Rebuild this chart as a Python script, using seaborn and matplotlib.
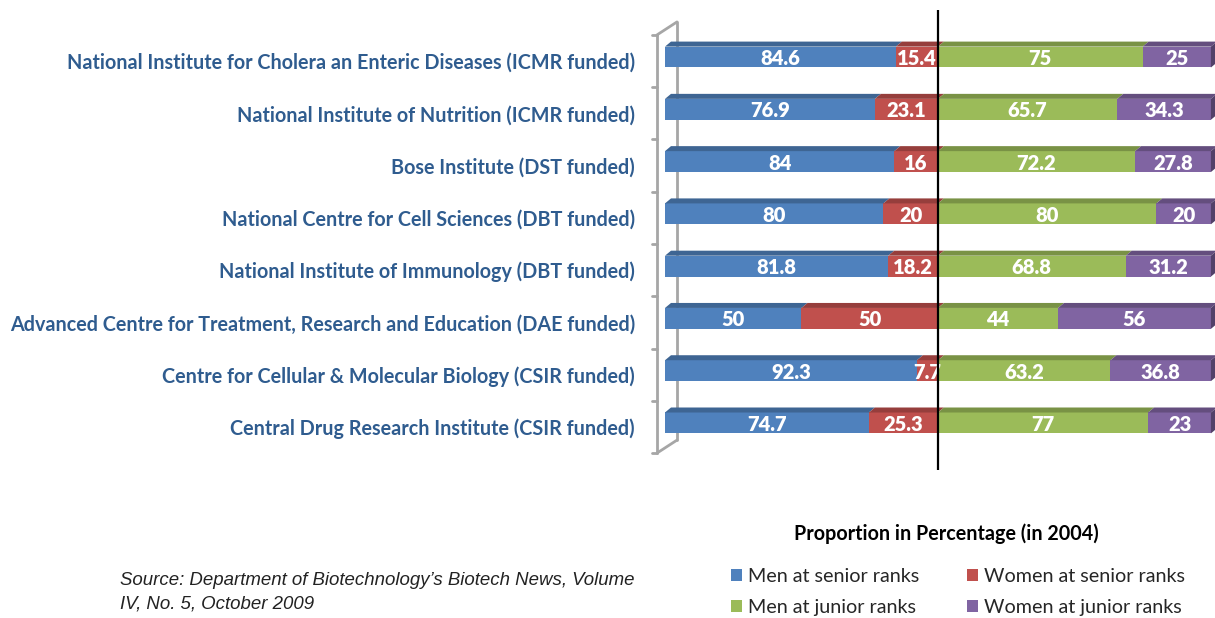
import numpy as np
import pandas as pd
import matplotlib
matplotlib.use("Agg")
import matplotlib.pyplot as plt
import matplotlib.colors as mcolors
import matplotlib.transforms as mtransforms
from matplotlib.patches import Polygon, Patch
import seaborn as sns

# ---------------- data ----------------
institutes = [
    "National Institute for Cholera an Enteric Diseases (ICMR funded)",
    "National Institute of Nutrition (ICMR funded)",
    "Bose Institute (DST funded)",
    "National Centre for Cell Sciences (DBT funded)",
    "National Institute of Immunology (DBT funded)",
    "Advanced Centre for Treatment, Research and Education (DAE funded)",
    "Centre for Cellular & Molecular Biology (CSIR funded)",
    "Central Drug Research Institute (CSIR funded)",
]
men_senior = [84.6, 76.9, 84, 80, 81.8, 50, 92.3, 74.7]
women_senior = [15.4, 23.1, 16, 20, 18.2, 50, 7.7, 25.3]
men_junior = [75, 65.7, 72.2, 80, 68.8, 44, 63.2, 77]
women_junior = [25, 34.3, 27.8, 20, 31.2, 56, 36.8, 23]
series_names = ["Men at senior ranks", "Women at senior ranks",
                "Men at junior ranks", "Women at junior ranks"]
legend_title = "Proportion in Percentage (in 2004)"
source_text = ("Source: Department of Biotechnology\u2019s Biotech News, Volume\n"
               "IV, No. 5, October 2009")

colors = ["#4F81BD", "#C0504D", "#9BBB59", "#8064A2"]
label_color = "#2F5C8F"

sns.set_theme(style="white")
plt.rcParams["font.family"] = ["Lato", "DejaVu Sans"]

W, H = 1215, 618
fig = plt.figure(figsize=(W / 100, H / 100), dpi=100)
ax = fig.add_axes([640 / W, 1 - 470 / H, 575 / W, 460 / H])

segments = np.array([men_senior, women_senior, men_junior, women_junior])
ends = np.cumsum(segments, axis=0)
starts = ends - segments

bar_h = 0.4
# draw cumulative bars from the longest to the shortest (stacked look)
for k in range(3, -1, -1):
    df = pd.DataFrame({"institute": institutes, "value": ends[k]})
    sns.barplot(data=df, x="value", y="institute", orient="h", color=colors[k],
                saturation=1, width=bar_h, linewidth=0, ax=ax, zorder=2)

xmin, xmax = -9.16, 201.5
ymin, ymax = 7.9, -0.9
ax.set_xlim(xmin, xmax)
ax.set_ylim(ymin, ymax)

# pixel -> data conversion for 3D depth
px_x = (xmax - xmin) / 575.0
px_y = (ymin - ymax) / 460.0
dx, dy = 6 * px_x, 5 * px_y

def darker(c, f=0.78):
    r, g, b = mcolors.to_rgb(c)
    return (r * f, g * f, b * f)

n = len(institutes)
for i in range(n):
    top = i - bar_h / 2
    for k in range(4):
        s, e = starts[k][i], ends[k][i]
        poly = Polygon([(s, top), (e, top), (e + dx, top - dy), (s + dx, top - dy)],
                       closed=True, facecolor=darker(colors[k]), edgecolor="none",
                       zorder=3)
        ax.add_patch(poly)
    # right side face
    e = ends[3][i]
    side = Polygon([(e, top), (e + dx, top - dy), (e + dx, top + bar_h - dy), (e, top + bar_h)],
                   closed=True, facecolor=darker(colors[3], 0.65), edgecolor="none", zorder=3)
    ax.add_patch(side)
    # value labels
    for k in range(4):
        v = segments[k][i]
        ax.text((starts[k][i] + ends[k][i]) / 2, i + 0.03, f"{v:g}", ha="center", va="center",
                color="white", fontweight="heavy", fontsize=14.5, zorder=5)

# 3D wall on the left
wall_col = "#A6A6A6"
fx = -8 * px_x
bx = fx + 20 * px_x
off = -0.5 + 4 * px_y
ax.plot([fx, fx], [off, off + n], color=wall_col, lw=2, zorder=1, clip_on=False)
ax.plot([bx, bx], [off - 13 * px_y, off + n - 13 * px_y], color=wall_col, lw=2, zorder=1,
        clip_on=False)
ax.plot([fx, bx], [off, off - 13 * px_y], color=wall_col, lw=2, zorder=1, clip_on=False)
ax.plot([fx, bx], [off + n, off + n - 13 * px_y], color=wall_col, lw=2, zorder=1, clip_on=False)
for j in range(n + 1):
    ax.plot([fx - 5 * px_x, fx], [off + j, off + j], color=wall_col, lw=2, zorder=1,
            clip_on=False)

# divider line at 100%
ax.axvline(100, color="black", lw=1.6, zorder=6)

ax.set_xticks([])
ax.set_yticks(range(n))
ax.set_yticklabels(institutes, fontweight="bold", color=label_color, fontsize=14.2)
ax.tick_params(axis="y", length=0, pad=3.6)
shift = mtransforms.ScaledTranslation(0, -0.04, fig.dpi_scale_trans)
for lbl in ax.get_yticklabels():
    lbl.set_transform(lbl.get_transform() + shift)
ax.set_xlabel("")
ax.set_ylabel("")
for sp in ax.spines.values():
    sp.set_visible(False)
ax.patch.set_alpha(0)

# legend
fig.text(946 / W, 1 - 534 / H, legend_title, ha="center", va="center",
         fontweight="bold", fontsize=14.2, color="black")
handles = [Patch(facecolor=c, edgecolor="none") for c in colors]
order = [0, 2, 1, 3]
leg = fig.legend([handles[o] for o in order], [series_names[o] for o in order],
                 ncol=2, loc="upper center", bbox_to_anchor=(958 / W, 1 - 550 / H),
                 frameon=False, fontsize=14.2,
                 handlelength=0.55, handleheight=0.55, handletextpad=0.3,
                 columnspacing=2.4, labelspacing=0.72)

fig.text(120 / W, 1 - 572 / H, source_text, ha="left", va="top", fontsize=13.4,
         style="italic", family="Liberation Sans", color="#222222", linespacing=1.5)

fig.savefig("out.png", dpi=100)
